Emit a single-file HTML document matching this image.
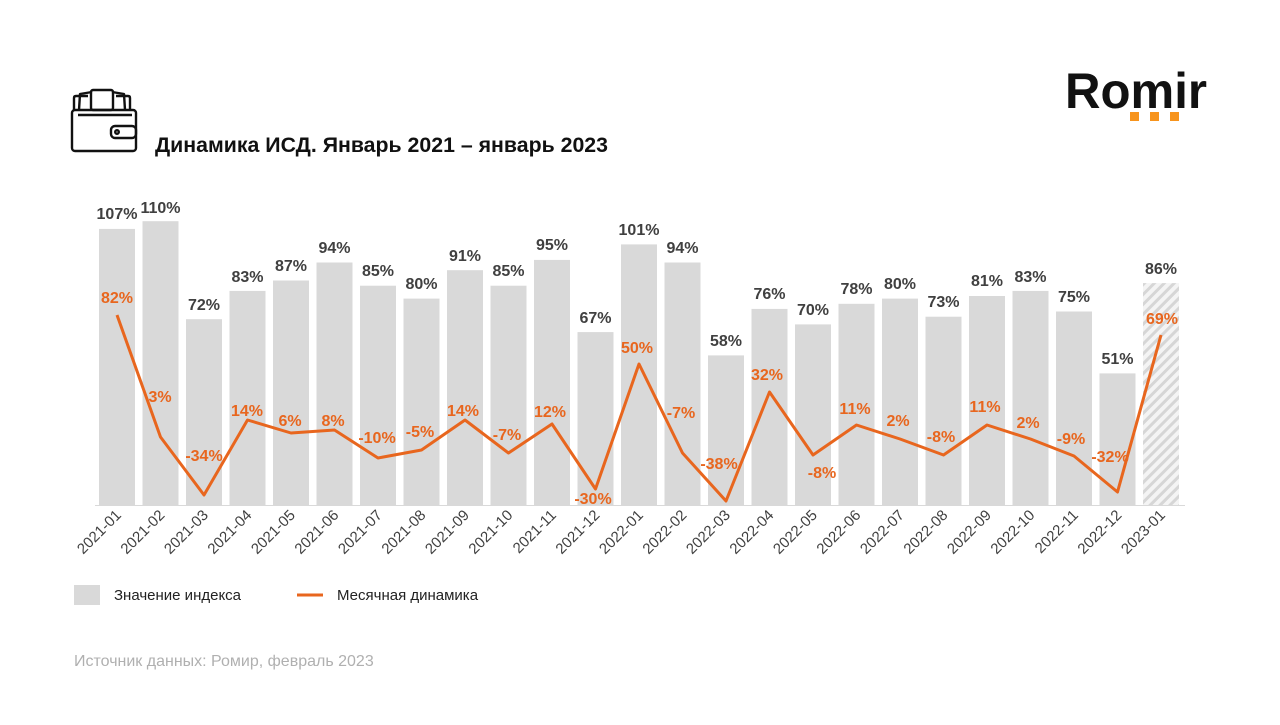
<!DOCTYPE html>
<html><head><meta charset="utf-8"><style>
body{margin:0;background:#fff;width:1280px;height:720px;overflow:hidden}
svg, svg text{font-family:"Liberation Sans",Arial,sans-serif}
</style></head><body>
<svg width="1280" height="720" viewBox="0 0 1280 720" xmlns="http://www.w3.org/2000/svg">
<defs>
<pattern id="h" width="7" height="7" patternUnits="userSpaceOnUse" patternTransform="rotate(45)">
<rect width="7" height="7" fill="#f4f4f4"/><rect width="3" height="7" fill="#d6d6d6"/>
</pattern>
</defs>
<g fill="none" stroke="#111" stroke-width="2.4" stroke-linejoin="round">
<path d="M74 110 L74 98 Q74 96 76 96 L88 96 M130 110 L130 98 Q130 96 128 96 L116 96"/>
<path d="M79 110 L80 94 L92 92 M125 110 L124 94 L112 92"/>
<rect x="91" y="90" width="22" height="20" rx="2"/>
<rect x="72" y="110" width="64" height="41" rx="3"/>
<path d="M78 115 L132 115"/>
<rect x="111" y="126" width="25" height="12" rx="4"/>
<circle cx="117" cy="132" r="1.8"/>
</g>
<text x="155" y="152" font-size="21" font-weight="bold" fill="#111" textLength="453" lengthAdjust="spacingAndGlyphs">Динамика ИСД. Январь 2021 – январь 2023</text>
<text x="1065" y="108" font-size="50" font-weight="bold" fill="#111" textLength="142" lengthAdjust="spacingAndGlyphs">Romir</text>
<rect x="1130" y="112" width="9" height="9" fill="#f7941d"/>
<rect x="1150" y="112" width="9" height="9" fill="#f7941d"/>
<rect x="1170" y="112" width="9" height="9" fill="#f7941d"/>
<g fill="#d9d9d9">
<rect x="99" y="228.9" width="36" height="276.1"/>
<rect x="142.5" y="221.2" width="36" height="283.8"/>
<rect x="186" y="319.2" width="36" height="185.8"/>
<rect x="229.5" y="290.9" width="36" height="214.1"/>
<rect x="273" y="280.5" width="36" height="224.5"/>
<rect x="316.5" y="262.5" width="36" height="242.5"/>
<rect x="360" y="285.7" width="36" height="219.3"/>
<rect x="403.5" y="298.6" width="36" height="206.4"/>
<rect x="447" y="270.2" width="36" height="234.8"/>
<rect x="490.5" y="285.7" width="36" height="219.3"/>
<rect x="534" y="259.9" width="36" height="245.1"/>
<rect x="577.5" y="332.1" width="36" height="172.9"/>
<rect x="621" y="244.4" width="36" height="260.6"/>
<rect x="664.5" y="262.5" width="36" height="242.5"/>
<rect x="708" y="355.4" width="36" height="149.6"/>
<rect x="751.5" y="308.9" width="36" height="196.1"/>
<rect x="795" y="324.4" width="36" height="180.6"/>
<rect x="838.5" y="303.8" width="36" height="201.2"/>
<rect x="882" y="298.6" width="36" height="206.4"/>
<rect x="925.5" y="316.7" width="36" height="188.3"/>
<rect x="969" y="296" width="36" height="209"/>
<rect x="1012.5" y="290.9" width="36" height="214.1"/>
<rect x="1056" y="311.5" width="36" height="193.5"/>
<rect x="1099.5" y="373.4" width="36" height="131.6"/>
</g>
<rect x="1143" y="283.1" width="36" height="221.9" fill="url(#h)"/>
<line x1="95" y1="505.5" x2="1185" y2="505.5" stroke="#d9d9d9" stroke-width="1"/>
<g font-size="16" font-weight="bold" fill="#404040" text-anchor="middle">
<text x="117" y="219">107%</text><text x="160.5" y="213">110%</text><text x="204" y="310">72%</text>
<text x="247.5" y="282">83%</text><text x="291" y="271">87%</text><text x="334.5" y="253">94%</text>
<text x="378" y="276">85%</text><text x="421.5" y="289">80%</text><text x="465" y="261">91%</text>
<text x="508.5" y="276">85%</text><text x="552" y="250">95%</text><text x="595.5" y="323">67%</text>
<text x="639" y="235">101%</text><text x="682.5" y="253">94%</text><text x="726" y="346">58%</text>
<text x="769.5" y="299">76%</text><text x="813" y="315">70%</text><text x="856.5" y="294">78%</text>
<text x="900" y="289">80%</text><text x="943.5" y="307">73%</text><text x="987" y="286">81%</text>
<text x="1030.5" y="282">83%</text><text x="1074" y="302">75%</text><text x="1117.5" y="364">51%</text>
<text x="1161" y="274">86%</text>
</g>
<polyline fill="none" stroke="#e8661e" stroke-width="3" stroke-linejoin="round" points="117,315 160.5,437 204,495 247.5,420 291,433 334.5,430 378,458 421.5,450 465,420 508.5,453 552,424 595.5,489 639,364 682.5,453 726,501 769.5,392 813,455 856.5,425 900,439 943.5,455 987,425 1030.5,439 1074,456 1117.5,492 1161,335"/>
<g font-size="16" font-weight="bold" fill="#e8661e" text-anchor="middle">
<text x="117" y="303">82%</text><text x="160" y="402">3%</text><text x="204" y="461">-34%</text>
<text x="247" y="416">14%</text><text x="290" y="426">6%</text><text x="333" y="426">8%</text>
<text x="377" y="443">-10%</text><text x="420" y="437">-5%</text><text x="463" y="416">14%</text>
<text x="507" y="440">-7%</text><text x="550" y="417">12%</text><text x="593" y="504">-30%</text>
<text x="637" y="353">50%</text><text x="681" y="418">-7%</text><text x="719" y="469">-38%</text>
<text x="767" y="380">32%</text><text x="822" y="478">-8%</text><text x="855" y="414">11%</text>
<text x="898" y="426">2%</text><text x="941" y="442">-8%</text><text x="985" y="412">11%</text>
<text x="1028" y="428">2%</text><text x="1071" y="444">-9%</text><text x="1110" y="462">-32%</text>
<text x="1162" y="324">69%</text>
</g>
<g font-size="15" fill="#404040" text-anchor="end">
<text transform="translate(122,516) rotate(-45)">2021-01</text>
<text transform="translate(165.5,516) rotate(-45)">2021-02</text>
<text transform="translate(209,516) rotate(-45)">2021-03</text>
<text transform="translate(252.5,516) rotate(-45)">2021-04</text>
<text transform="translate(296,516) rotate(-45)">2021-05</text>
<text transform="translate(339.5,516) rotate(-45)">2021-06</text>
<text transform="translate(383,516) rotate(-45)">2021-07</text>
<text transform="translate(426.5,516) rotate(-45)">2021-08</text>
<text transform="translate(470,516) rotate(-45)">2021-09</text>
<text transform="translate(513.5,516) rotate(-45)">2021-10</text>
<text transform="translate(557,516) rotate(-45)">2021-11</text>
<text transform="translate(600.5,516) rotate(-45)">2021-12</text>
<text transform="translate(644,516) rotate(-45)">2022-01</text>
<text transform="translate(687.5,516) rotate(-45)">2022-02</text>
<text transform="translate(731,516) rotate(-45)">2022-03</text>
<text transform="translate(774.5,516) rotate(-45)">2022-04</text>
<text transform="translate(818,516) rotate(-45)">2022-05</text>
<text transform="translate(861.5,516) rotate(-45)">2022-06</text>
<text transform="translate(905,516) rotate(-45)">2022-07</text>
<text transform="translate(948.5,516) rotate(-45)">2022-08</text>
<text transform="translate(992,516) rotate(-45)">2022-09</text>
<text transform="translate(1035.5,516) rotate(-45)">2022-10</text>
<text transform="translate(1079,516) rotate(-45)">2022-11</text>
<text transform="translate(1122.5,516) rotate(-45)">2022-12</text>
<text transform="translate(1166,516) rotate(-45)">2023-01</text>
</g>
<rect x="74" y="585" width="26" height="20" fill="#d9d9d9"/>
<text x="114" y="600" font-size="15" fill="#222">Значение индекса</text>
<line x1="297" y1="595" x2="323" y2="595" stroke="#e8661e" stroke-width="3"/>
<text x="337" y="600" font-size="15" fill="#222">Месячная динамика</text>
<text x="74" y="666" font-size="16" fill="#b0b0b0">Источник данных: Ромир, февраль 2023</text>
</svg>
</body></html>
